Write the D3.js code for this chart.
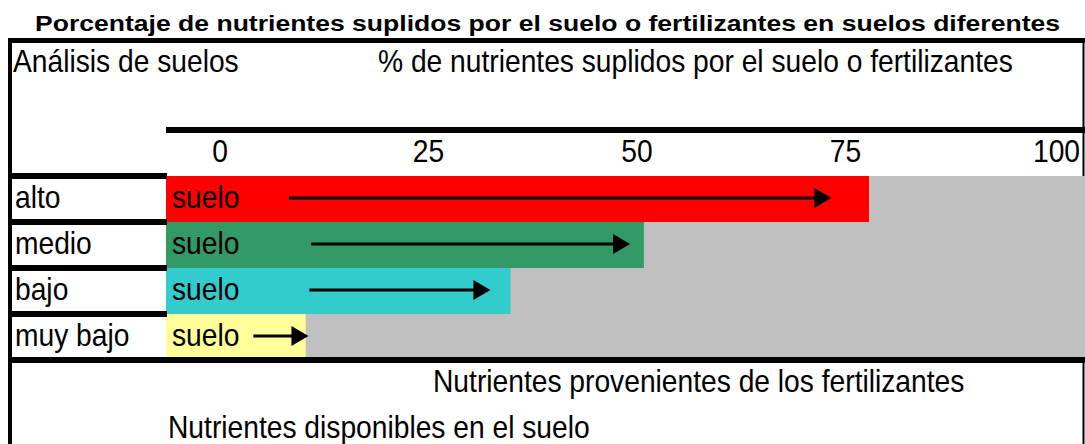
<!DOCTYPE html>
<html>
<head>
<meta charset="utf-8">
<script src="https://cdn.jsdelivr.net/npm/d3@7"></script>
<style>
    body { margin: 0; background: #fff; }
    text { font-family: "Liberation Sans", Arial, sans-serif; fill: #000; }
</style>
</head>
<body>
<svg id="chart" width="1085" height="444"></svg>
<script>
// soil analysis levels and the % of nutrients the soil supplies
const levels = ['alto', 'medio', 'bajo', 'muy bajo'];
const soilSupply = [76.5, 52, 37.5, 15.2];
const levelColors = ['#ff0000', '#339966', '#33cccc', '#ffff99'];
// arrows drawn inside each bar (start / end in %)
const arrowStart = [13.4, 15.8, 15.6, 9.5];
const arrowEnd = [72.4, 50.5, 35.3, 15.5];
const tickLabels = [0, 25, 50, 75, 100];

const title = 'Porcentaje de nutrientes suplidos por el suelo o fertilizantes en suelos diferentes';
const rowHeader = 'Análisis de suelos';
const colHeader = '% de nutrientes suplidos por el suelo o fertilizantes';
const barText = 'suelo';
const legendFert = 'Nutrientes provenientes de los fertilizantes';
const legendSoil = 'Nutrientes disponibles en el suelo';

const svg = d3.select('#chart');
const fontSize = 31;
const squeeze = 0.91; // the sheet font renders a bit narrow

// x scale for the bars and a scale for the column header labels
const x = d3.scaleLinear().domain([0, 100]).range([166, 1085]);
const xTick = d3.scaleLinear().domain([0, 100]).range([220, 1054]);
const y = d3.scaleBand().domain(levels).range([176, 360]).paddingInner(0);

const data = levels.map((d, i) => ({
    level: d, value: soilSupply[i], color: levelColors[i], a0: arrowStart[i], a1: arrowEnd[i]
}));

// helper for the narrow sheet text
const addText = (g, str, tx, ty, anchor) => {
    return g.append('text')
        .attr('transform', 'translate(' + tx + ',' + ty + ') scale(' + squeeze + ',1)')
        .attr('font-size', fontSize)
        .attr('text-anchor', anchor || 'start')
        .text(str);
};

// title
svg.append('text')
    .attr('x', 35)
    .attr('y', 31)
    .attr('font-size', 22.5)
    .attr('font-weight', 'bold')
    .attr('textLength', 1025)
    .attr('lengthAdjust', 'spacingAndGlyphs')
    .text(title);

// right border sits behind the grey area
svg.append('line')
    .attr('x1', 1083.5).attr('x2', 1083.5).attr('y1', 38).attr('y2', 444)
    .attr('stroke', '#000').attr('stroke-width', 2);

// grey background = fertilizer share
svg.append('rect')
    .attr('x', x(0))
    .attr('y', y.range()[0])
    .attr('width', x(100) - x(0))
    .attr('height', y.range()[1] - y.range()[0])
    .attr('fill', '#c0c0c0');

const rows = svg.selectAll('.row').data(data).enter().append('g').classed('row', true);

rows.append('rect')
    .attr('x', x(0))
    .attr('y', (d) => y(d.level))
    .attr('width', (d) => x(d.value) - x(0))
    .attr('height', y.bandwidth())
    .attr('fill', (d) => d.color);

rows.each((d, i, nodes) => {
    const g = d3.select(nodes[i]);
    const top = y(d.level);
    addText(g, d.level, 15, top + 32);
    addText(g, barText, 172, top + 32);
    // arrow
    const ay = top + 22;
    g.append('line')
        .attr('x1', x(d.a0)).attr('x2', x(d.a1) - 8)
        .attr('y1', ay).attr('y2', ay)
        .attr('stroke', '#000').attr('stroke-width', 3);
    g.append('path')
        .attr('d', 'M' + x(d.a1) + ',' + ay + 'L' + (x(d.a1) - 17) + ',' + (ay - 10) + 'L' + (x(d.a1) - 17) + ',' + (ay + 10) + 'Z')
        .attr('fill', '#000');
});

// grid lines of the sheet
const lines = [
    {x1: 8, x2: 1085, y: 40.5, w: 5},
    {x1: 166, x2: 1085, y: 130, w: 6},
    {x1: 10, x2: 1085, y: 360, w: 6}
];
levels.forEach((d) => lines.push({x1: 10, x2: 167, y: y(d), w: 6}));

svg.selectAll('.hline').data(lines).enter().append('line')
    .classed('hline', true)
    .attr('x1', (d) => d.x1).attr('x2', (d) => d.x2)
    .attr('y1', (d) => d.y).attr('y2', (d) => d.y)
    .attr('stroke', '#000')
    .attr('stroke-width', (d) => d.w);

svg.append('line')
    .attr('x1', 10).attr('x2', 10).attr('y1', 38).attr('y2', 444)
    .attr('stroke', '#000').attr('stroke-width', 4);

// headers
addText(svg, rowHeader, 13, 72);
addText(svg, colHeader, 378, 72);

tickLabels.forEach((t, i) => {
    const last = i === tickLabels.length - 1;
    addText(svg, String(t), last ? 1080 : xTick(t), 162, last ? 'end' : 'middle');
});

// legend text under the table
addText(svg, legendFert, 433, 392);
addText(svg, legendSoil, 168, 438);
</script>
</body>
</html>
